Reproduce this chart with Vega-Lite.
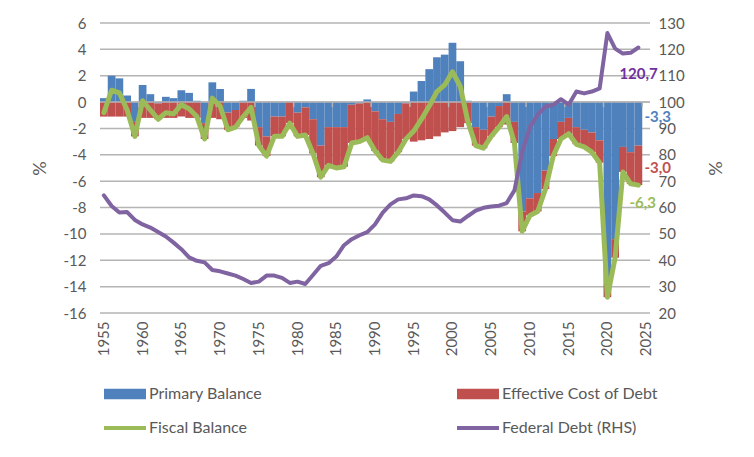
{
  "$schema": "https://vega.github.io/schema/vega-lite/v6.json",
  "width": 550,
  "height": 290,
  "autosize": {"type": "none"},
  "padding": {"left": 100, "top": 23, "right": 104, "bottom": 144},
  "background": "white",
  "config": {
    "view": {"stroke": null},
    "font": "Lato",
    "locale": {"number": {"decimal": ",", "thousands": ".", "grouping": [3], "currency": ["", ""], "minus": "-"}},
    "axis": {
      "labelFont": "Lato", "labelFontSize": 15, "labelColor": "#595959",
      "titleFont": "Lato", "titleFontSize": 18, "titleColor": "#595959", "titleFontWeight": "normal",
      "domain": false, "ticks": false, "grid": false
    },
    "legend": {"labelFont": "Lato", "labelFontSize": 16, "labelColor": "#595959"}
  },
  "data": {"values": [
    {"year": 1955, "primary": 0.3, "cost": -1.1, "fiscal": -0.8, "debt": 64.6},
    {"year": 1956, "primary": 2.0, "cost": -1.1, "fiscal": 0.9, "debt": 60.6},
    {"year": 1957, "primary": 1.8, "cost": -1.1, "fiscal": 0.7, "debt": 58.1},
    {"year": 1958, "primary": 0.5, "cost": -1.1, "fiscal": -0.6, "debt": 58.3},
    {"year": 1959, "primary": -1.5, "cost": -1.1, "fiscal": -2.6, "debt": 55.3},
    {"year": 1960, "primary": 1.3, "cost": -1.2, "fiscal": 0.1, "debt": 53.6},
    {"year": 1961, "primary": 0.6, "cost": -1.2, "fiscal": -0.6, "debt": 52.4},
    {"year": 1962, "primary": -0.1, "cost": -1.2, "fiscal": -1.3, "debt": 50.7},
    {"year": 1963, "primary": 0.4, "cost": -1.2, "fiscal": -0.8, "debt": 49.0},
    {"year": 1964, "primary": 0.3, "cost": -1.2, "fiscal": -0.9, "debt": 46.7},
    {"year": 1965, "primary": 0.9, "cost": -1.1, "fiscal": -0.2, "debt": 44.2},
    {"year": 1966, "primary": 0.7, "cost": -1.2, "fiscal": -0.5, "debt": 41.1},
    {"year": 1967, "primary": 0.1, "cost": -1.2, "fiscal": -1.1, "debt": 39.8},
    {"year": 1968, "primary": -1.6, "cost": -1.2, "fiscal": -2.8, "debt": 39.2},
    {"year": 1969, "primary": 1.5, "cost": -1.2, "fiscal": 0.3, "debt": 36.3},
    {"year": 1970, "primary": 1.0, "cost": -1.3, "fiscal": -0.3, "debt": 35.8},
    {"year": 1971, "primary": -0.8, "cost": -1.3, "fiscal": -2.1, "debt": 35.0},
    {"year": 1972, "primary": -0.6, "cost": -1.3, "fiscal": -1.9, "debt": 34.2},
    {"year": 1973, "primary": 0.1, "cost": -1.2, "fiscal": -1.1, "debt": 32.9},
    {"year": 1974, "primary": 1.0, "cost": -1.4, "fiscal": -0.4, "debt": 31.4},
    {"year": 1975, "primary": -1.9, "cost": -1.4, "fiscal": -3.3, "debt": 31.9},
    {"year": 1976, "primary": -2.6, "cost": -1.5, "fiscal": -4.1, "debt": 34.2},
    {"year": 1977, "primary": -1.1, "cost": -1.5, "fiscal": -2.6, "debt": 34.2},
    {"year": 1978, "primary": -1.1, "cost": -1.5, "fiscal": -2.6, "debt": 33.3},
    {"year": 1979, "primary": 0.0, "cost": -1.6, "fiscal": -1.6, "debt": 31.4},
    {"year": 1980, "primary": -0.8, "cost": -1.8, "fiscal": -2.6, "debt": 31.9},
    {"year": 1981, "primary": -0.4, "cost": -2.1, "fiscal": -2.5, "debt": 31.0},
    {"year": 1982, "primary": -1.3, "cost": -2.6, "fiscal": -3.9, "debt": 34.4},
    {"year": 1983, "primary": -3.3, "cost": -2.4, "fiscal": -5.7, "debt": 37.9},
    {"year": 1984, "primary": -1.9, "cost": -2.9, "fiscal": -4.8, "debt": 38.9},
    {"year": 1985, "primary": -1.9, "cost": -3.1, "fiscal": -5.0, "debt": 41.4},
    {"year": 1986, "primary": -1.9, "cost": -3.0, "fiscal": -4.9, "debt": 45.7},
    {"year": 1987, "primary": -0.2, "cost": -2.9, "fiscal": -3.1, "debt": 48.0},
    {"year": 1988, "primary": -0.1, "cost": -2.9, "fiscal": -3.0, "debt": 49.5},
    {"year": 1989, "primary": 0.2, "cost": -2.9, "fiscal": -2.7, "debt": 50.7},
    {"year": 1990, "primary": -0.7, "cost": -3.0, "fiscal": -3.7, "debt": 53.6},
    {"year": 1991, "primary": -1.3, "cost": -3.1, "fiscal": -4.4, "debt": 58.1},
    {"year": 1992, "primary": -1.5, "cost": -3.0, "fiscal": -4.5, "debt": 61.2},
    {"year": 1993, "primary": -0.9, "cost": -2.9, "fiscal": -3.8, "debt": 63.1},
    {"year": 1994, "primary": -0.1, "cost": -2.7, "fiscal": -2.8, "debt": 63.5},
    {"year": 1995, "primary": 0.8, "cost": -3.0, "fiscal": -2.2, "debt": 64.6},
    {"year": 1996, "primary": 1.6, "cost": -2.9, "fiscal": -1.3, "debt": 64.3},
    {"year": 1997, "primary": 2.5, "cost": -2.8, "fiscal": -0.3, "debt": 63.1},
    {"year": 1998, "primary": 3.4, "cost": -2.6, "fiscal": 0.8, "debt": 60.8},
    {"year": 1999, "primary": 3.6, "cost": -2.3, "fiscal": 1.3, "debt": 58.1},
    {"year": 2000, "primary": 4.5, "cost": -2.2, "fiscal": 2.3, "debt": 55.2},
    {"year": 2001, "primary": 3.1, "cost": -1.9, "fiscal": 1.2, "debt": 54.7},
    {"year": 2002, "primary": 0.1, "cost": -1.6, "fiscal": -1.5, "debt": 56.8},
    {"year": 2003, "primary": -1.9, "cost": -1.4, "fiscal": -3.3, "debt": 58.8},
    {"year": 2004, "primary": -2.1, "cost": -1.4, "fiscal": -3.5, "debt": 59.9},
    {"year": 2005, "primary": -1.1, "cost": -1.5, "fiscal": -2.6, "debt": 60.4},
    {"year": 2006, "primary": -0.3, "cost": -1.6, "fiscal": -1.9, "debt": 60.7},
    {"year": 2007, "primary": 0.6, "cost": -1.7, "fiscal": -1.1, "debt": 61.7},
    {"year": 2008, "primary": -1.5, "cost": -1.6, "fiscal": -3.1, "debt": 66.5},
    {"year": 2009, "primary": -8.3, "cost": -1.5, "fiscal": -9.8, "debt": 81.0},
    {"year": 2010, "primary": -7.3, "cost": -1.3, "fiscal": -8.6, "debt": 90.5},
    {"year": 2011, "primary": -6.9, "cost": -1.4, "fiscal": -8.3, "debt": 95.2},
    {"year": 2012, "primary": -5.2, "cost": -1.4, "fiscal": -6.6, "debt": 98.3},
    {"year": 2013, "primary": -2.8, "cost": -1.3, "fiscal": -4.1, "debt": 98.9},
    {"year": 2014, "primary": -1.5, "cost": -1.3, "fiscal": -2.8, "debt": 101.1},
    {"year": 2015, "primary": -1.2, "cost": -1.2, "fiscal": -2.4, "debt": 99.0},
    {"year": 2016, "primary": -1.9, "cost": -1.3, "fiscal": -3.2, "debt": 104.0},
    {"year": 2017, "primary": -2.1, "cost": -1.3, "fiscal": -3.4, "debt": 103.3},
    {"year": 2018, "primary": -2.3, "cost": -1.5, "fiscal": -3.8, "debt": 104.0},
    {"year": 2019, "primary": -2.9, "cost": -1.7, "fiscal": -4.6, "debt": 105.2},
    {"year": 2020, "primary": -13.8, "cost": -1.0, "fiscal": -14.8, "debt": 126.2},
    {"year": 2021, "primary": -10.4, "cost": -1.4, "fiscal": -11.8, "debt": 120.3},
    {"year": 2022, "primary": -3.4, "cost": -1.9, "fiscal": -5.3, "debt": 118.4},
    {"year": 2023, "primary": -3.8, "cost": -2.4, "fiscal": -6.2, "debt": 118.7},
    {"year": 2024, "primary": -3.3, "cost": -3.0, "fiscal": -6.3, "debt": 120.7}
  ]},
  "layer": [
    {
      "layer": [
        {
          "data": {"values": [
            {"level": -16}, {"level": -14}, {"level": -12}, {"level": -10}, {"level": -8}, {"level": -6},
            {"level": -4}, {"level": -2}, {"level": 0}, {"level": 2}, {"level": 4}, {"level": 6}
          ]},
          "mark": {"type": "rule", "stroke": "#b4b4b4", "strokeWidth": 1.5},
          "encoding": {
            "y": {"field": "level", "type": "quantitative", "title": "%",
                  "axis": {"values": [-16,-14,-12,-10,-8,-6,-4,-2,0,2,4,6], "labelOverlap": false, "labelPadding": 14,
                           "titleAngle": 270, "titleX": -60, "titleY": 145, "titleAlign": "center", "titleBaseline": "middle"}}
          }
        },
        {
          "transform": [{"fold": ["primary", "cost"], "as": ["key", "value"]}],
          "mark": {"type": "bar"},
          "encoding": {
            "x": {
              "field": "year", "type": "ordinal",
              "scale": {
                "domain": [1955,1956,1957,1958,1959,1960,1961,1962,1963,1964,1965,1966,1967,1968,1969,1970,1971,1972,1973,1974,1975,1976,1977,1978,1979,1980,1981,1982,1983,1984,1985,1986,1987,1988,1989,1990,1991,1992,1993,1994,1995,1996,1997,1998,1999,2000,2001,2002,2003,2004,2005,2006,2007,2008,2009,2010,2011,2012,2013,2014,2015,2016,2017,2018,2019,2020,2021,2022,2023,2024,2025],
                "paddingInner": 0, "paddingOuter": 0
              },
              "axis": {
                "title": null, "values": [1955,1960,1965,1970,1975,1980,1985,1990,1995,2000,2005,2010,2015,2020,2025],
                "labelAngle": 270, "labelPadding": 8
              }
            },
            "y": {
              "field": "value", "type": "quantitative", "stack": "zero", "title": "%",
              "scale": {"domain": [-16, 6], "nice": false, "zero": false},
              "axis": {"values": [-16,-14,-12,-10,-8,-6,-4,-2,0,2,4,6], "labelOverlap": false, "labelPadding": 14,
                       "titleAngle": 270, "titleX": -60, "titleY": 145, "titleAlign": "center", "titleBaseline": "middle"}
            },
            "color": {
              "field": "key", "type": "nominal",
              "scale": {"domain": ["primary", "fiscal", "cost", "debt"], "range": ["#4F81BD", "#9BBB59", "#C0504D", "#8064A2"]},
              "legend": {
                "title": null, "orient": "none", "legendX": 4, "legendY": 350, "columns": 2, "columnPadding": 194,
                "rowPadding": 5, "symbolSize": 1764, "symbolType": "M-1,-0.25H1V0.25H-1Z", "symbolStrokeWidth": 0, "labelOffset": 3,
                "labelExpr": "datum.value === 'primary' ? 'Primary Balance' : datum.value === 'cost' ? 'Effective Cost of Debt' : datum.value === 'fiscal' ? 'Fiscal Balance' : 'Federal Debt (RHS)'",
                "encode": {"symbols": {"update": {"shape": {"signal": "datum.value === 'fiscal' || datum.value === 'debt' ? 'M-1,-0.1H1V0.1H-1Z' : 'M-1,-0.25H1V0.25H-1Z'"}}}}
              }
            },
            "order": {"field": "key", "sort": "descending"}
          }
        },
        {
          "data": {"values": [{"level": 0}]},
          "mark": {"type": "rule", "stroke": "#b4b4b4", "strokeWidth": 1.5},
          "encoding": {
            "y": {"field": "level", "type": "quantitative", "title": "%",
                  "axis": {"values": [-16,-14,-12,-10,-8,-6,-4,-2,0,2,4,6], "labelOverlap": false, "labelPadding": 14,
                           "titleAngle": 270, "titleX": -60, "titleY": 145, "titleAlign": "center", "titleBaseline": "middle"}}
          }
        },
        {
          "data": {"values": [
            {"year": 1960}, {"year": 1965}, {"year": 1970}, {"year": 1975}, {"year": 1980}, {"year": 1985}, {"year": 1990},
            {"year": 1995}, {"year": 2000}, {"year": 2005}, {"year": 2010}, {"year": 2015}, {"year": 2020}, {"year": 2025}
          ]},
          "mark": {"type": "rule", "stroke": "#b4b4b4", "strokeWidth": 1.5},
          "encoding": {
            "x": {
              "field": "year", "type": "ordinal", "bandPosition": 0,
              "axis": {
                "title": null, "values": [1955,1960,1965,1970,1975,1980,1985,1990,1995,2000,2005,2010,2015,2020,2025],
                "labelAngle": 270, "labelPadding": 8
              }
            },
            "y": {"datum": 0, "type": "quantitative", "title": "%",
                  "axis": {"values": [-16,-14,-12,-10,-8,-6,-4,-2,0,2,4,6], "labelOverlap": false, "labelPadding": 14,
                           "titleAngle": 270, "titleX": -60, "titleY": 145, "titleAlign": "center", "titleBaseline": "middle"}},
            "y2": {"datum": -0.38}
          }
        },
        {
          "mark": {"type": "line", "strokeWidth": 5, "strokeJoin": "round", "strokeCap": "round"},
          "encoding": {
            "x": {
              "field": "year", "type": "ordinal",
              "axis": {
                "title": null, "values": [1955,1960,1965,1970,1975,1980,1985,1990,1995,2000,2005,2010,2015,2020,2025],
                "labelAngle": 270, "labelPadding": 8
              }
            },
            "y": {"field": "fiscal", "type": "quantitative", "title": "%",
                  "axis": {"values": [-16,-14,-12,-10,-8,-6,-4,-2,0,2,4,6], "labelOverlap": false, "labelPadding": 14,
                           "titleAngle": 270, "titleX": -60, "titleY": 145, "titleAlign": "center", "titleBaseline": "middle"}},
            "color": {"datum": "fiscal", "type": "nominal", "legend": null}
          }
        },
        {
          "transform": [{"filter": "datum.year === 2024"}],
          "mark": {"type": "text", "align": "left", "baseline": "middle", "dx": 6, "dy": -29, "font": "Lato", "fontSize": 15, "fontWeight": "bold", "color": "#4F81BD"},
          "encoding": {
            "x": {
              "field": "year", "type": "ordinal",
              "axis": {
                "title": null, "values": [1955,1960,1965,1970,1975,1980,1985,1990,1995,2000,2005,2010,2015,2020,2025],
                "labelAngle": 270, "labelPadding": 8
              }
            },
            "y": {"field": "primary", "type": "quantitative", "title": "%",
                  "axis": {"values": [-16,-14,-12,-10,-8,-6,-4,-2,0,2,4,6], "labelOverlap": false, "labelPadding": 14,
                           "titleAngle": 270, "titleX": -60, "titleY": 145, "titleAlign": "center", "titleBaseline": "middle"}},
            "text": {"field": "primary", "type": "quantitative", "format": ".1f"}
          }
        },
        {
          "transform": [{"filter": "datum.year === 2024"}],
          "mark": {"type": "text", "align": "left", "baseline": "middle", "dx": 6, "dy": 26, "font": "Lato", "fontSize": 15, "fontWeight": "bold", "color": "#C0504D"},
          "encoding": {
            "x": {
              "field": "year", "type": "ordinal",
              "axis": {
                "title": null, "values": [1955,1960,1965,1970,1975,1980,1985,1990,1995,2000,2005,2010,2015,2020,2025],
                "labelAngle": 270, "labelPadding": 8
              }
            },
            "y": {"field": "cost", "type": "quantitative", "title": "%",
                  "axis": {"values": [-16,-14,-12,-10,-8,-6,-4,-2,0,2,4,6], "labelOverlap": false, "labelPadding": 14,
                           "titleAngle": 270, "titleX": -60, "titleY": 145, "titleAlign": "center", "titleBaseline": "middle"}},
            "text": {"field": "cost", "type": "quantitative", "format": ".1f"}
          }
        },
        {
          "transform": [{"filter": "datum.year === 2024"}],
          "mark": {"type": "text", "align": "left", "baseline": "middle", "dx": -9, "dy": 18, "font": "Lato", "fontSize": 15, "fontWeight": "bold", "color": "#9BBB59"},
          "encoding": {
            "x": {
              "field": "year", "type": "ordinal",
              "axis": {
                "title": null, "values": [1955,1960,1965,1970,1975,1980,1985,1990,1995,2000,2005,2010,2015,2020,2025],
                "labelAngle": 270, "labelPadding": 8
              }
            },
            "y": {"field": "fiscal", "type": "quantitative", "title": "%",
                  "axis": {"values": [-16,-14,-12,-10,-8,-6,-4,-2,0,2,4,6], "labelOverlap": false, "labelPadding": 14,
                           "titleAngle": 270, "titleX": -60, "titleY": 145, "titleAlign": "center", "titleBaseline": "middle"}},
            "text": {"field": "fiscal", "type": "quantitative", "format": ".1f"}
          }
        }
      ]
    },
    {
      "layer": [
        {
          "mark": {"type": "line", "strokeWidth": 4, "strokeJoin": "round", "strokeCap": "round"},
          "encoding": {
            "x": {
              "field": "year", "type": "ordinal",
              "axis": {
                "title": null, "values": [1955,1960,1965,1970,1975,1980,1985,1990,1995,2000,2005,2010,2015,2020,2025],
                "labelAngle": 270, "labelPadding": 8
              }
            },
            "y": {
              "field": "debt", "type": "quantitative", "title": "%",
              "scale": {"domain": [20, 130], "nice": false, "zero": false},
              "axis": {"orient": "right", "values": [20,30,40,50,60,70,80,90,100,110,120,130], "labelOverlap": false, "labelPadding": 8,
                       "titleAngle": 270, "titleX": 66, "titleY": 145, "titleAlign": "center", "titleBaseline": "middle"}
            },
            "color": {"datum": "debt", "type": "nominal", "legend": null}
          }
        },
        {
          "transform": [{"filter": "datum.year === 2024"}],
          "mark": {"type": "text", "align": "left", "baseline": "middle", "dx": -19, "dy": 26, "font": "Lato", "fontSize": 15, "fontWeight": "bold", "color": "#7030A0"},
          "encoding": {
            "x": {
              "field": "year", "type": "ordinal",
              "axis": {
                "title": null, "values": [1955,1960,1965,1970,1975,1980,1985,1990,1995,2000,2005,2010,2015,2020,2025],
                "labelAngle": 270, "labelPadding": 8
              }
            },
            "y": {"field": "debt", "type": "quantitative", "title": "%",
                  "axis": {"orient": "right", "values": [20,30,40,50,60,70,80,90,100,110,120,130], "labelOverlap": false, "labelPadding": 8,
                           "titleAngle": 270, "titleX": 66, "titleY": 145, "titleAlign": "center", "titleBaseline": "middle"}},
            "text": {"field": "debt", "type": "quantitative", "format": ".1f"}
          }
        }
      ]
    }
  ],
  "resolve": {"scale": {"y": "independent"}}
}
